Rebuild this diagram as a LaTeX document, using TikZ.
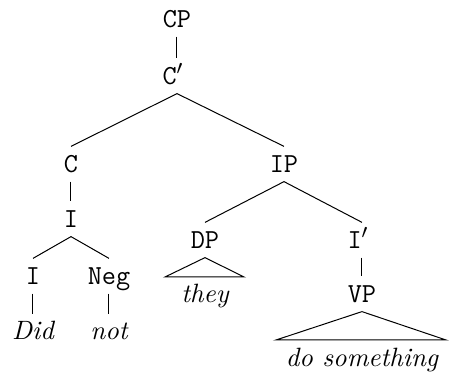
\documentclass[tikz,border=0pt]{standalone}
\usepackage{tikz}
\usetikzlibrary{positioning}

\newcommand{\barlevel}[1]{\makebox[1.05em][l]{#1$'$}}
\tikzset{
  cat/.style={font=\fontsize{11}{13}\selectfont\ttfamily, text height=6.7pt, text depth=0pt, inner sep=3.5pt},
  leaf/.style={font=\fontsize{10.6}{13}\selectfont\itshape, text height=7.2pt, text depth=0pt, inner sep=3pt}
}

\begin{document}
\begin{tikzpicture}[x=0.4pt, y=-0.4pt]
\useasboundingbox (0,0) rectangle (449,372);
% categories
\foreach \n/\x/\y/\t in {cp/177/19/CP, cb/177/76/\barlevel{C}, c/71/164/C, ip/284/164/IP,
    ia/71/219/I, ib/33/276/I, neg/109/276/Neg, dp/205/240/DP, ibar/362/240/\barlevel{I}, vp/362/294/VP} {
    \node[cat] (\n) at (\x, \y) {\t};
}
% words
\node[leaf] (did) at (33, 331) {Did};
\node[leaf] (not) at (109, 331) {not};
\node[leaf] (they) at (205, 294) {they};
\node[leaf] (dosth) at (362, 358) {do something};
% branches
\foreach \a/\b in {cp/cb, cb/c, cb/ip, c/ia, ia/ib, ia/neg, ib/did, neg/not, ip/dp, ip/ibar, ibar/vp} {
    \draw (\a.south) -- (\b.north);
}
% triangles
\coordinate (dpl) at (165, 277);
\coordinate (dpr) at (244, 277);
\draw (dp.south) -- (dpl) -- (dpr) -- cycle;
\coordinate (vpl) at (276, 340);
\coordinate (vpr) at (446, 340);
\draw (vp.south) -- (vpl) -- (vpr) -- cycle;
\end{tikzpicture}
\end{document}
